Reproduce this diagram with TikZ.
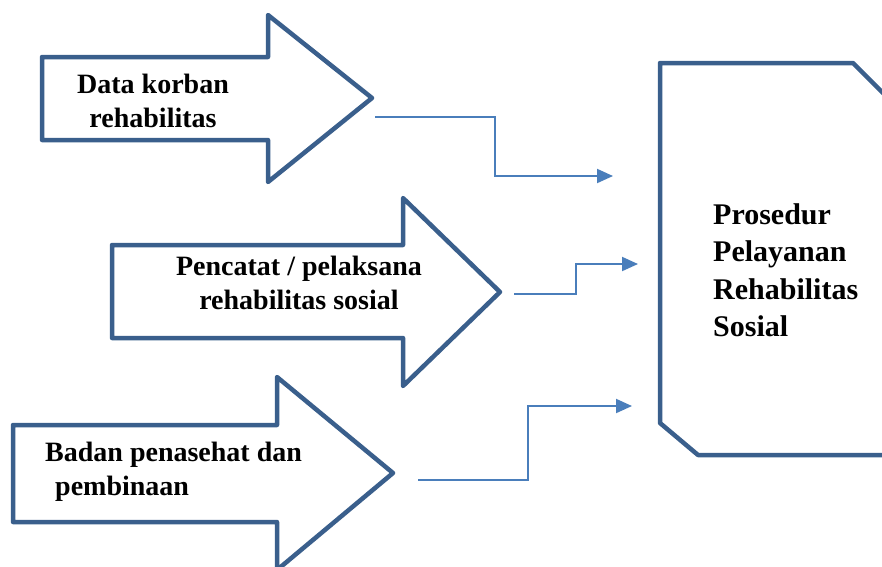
\documentclass[tikz,border=0pt]{standalone}
\usepackage{fontspec}
\setmainfont{Liberation Serif}
\usetikzlibrary{arrows.meta}
\definecolor{outl}{HTML}{3A5F8C}
\definecolor{conn}{HTML}{4A7EBB}
\begin{document}
\begin{tikzpicture}[x=1pt,y=-1pt,
  shapeline/.style={draw=outl,line width=4.5pt,line join=round,fill=white},
  link/.style={draw=conn,line width=2pt,-{Triangle[length=16pt,width=14pt]}},
  lbl/.style={font=\bfseries\fontsize{28}{34}\selectfont,inner sep=0pt},
  boxlbl/.style={font=\bfseries\fontsize{30}{37.5}\selectfont,inner sep=0pt,align=left}]
\useasboundingbox (0,0) rectangle (882,566);
\clip (0,0) rectangle (882,566);
% block arrows
\draw[shapeline] (42,57) -- (268,57) -- (268,15) -- (372,98) -- (268,182) -- (268,140) -- (42,140) -- cycle;
\draw[shapeline] (112,245) -- (403,245) -- (403,198) -- (500,292) -- (403,386) -- (403,338) -- (112,338) -- cycle;
\draw[shapeline] (13,425) -- (277,425) -- (277,377) -- (393,473) -- (277,570) -- (277,522) -- (13,522) -- cycle;
% target box
\draw[shapeline] (660,63) -- (853,63) -- (920,130) -- (920,455) -- (698,455) -- (660,423) -- cycle;
% labels
\node[lbl,align=center] (a1) at (153,101) {Data korban\\rehabilitas};
\node[lbl,align=center] (a2) at (299,283) {Pencatat / pelaksana\\rehabilitas sosial};
\node[lbl,align=left,anchor=west] (a3) at (45,472) {Badan penasehat dan\\\hspace{10pt}pembinaan};
\node[boxlbl,anchor=west] (box) at (713,270) {Prosedur\\Pelayanan\\Rehabilitas\\Sosial};
% connectors
\coordinate (c1s) at (375,117);
\coordinate (c1m) at (495,146);
\coordinate (c1e) at (613,176);
\coordinate (c2s) at (514,294);
\coordinate (c2m) at (576,280);
\coordinate (c2e) at (638,264);
\coordinate (c3s) at (418,480);
\coordinate (c3m) at (528,440);
\coordinate (c3e) at (632,406);
\draw[link] (c1s) -| (c1m) |- (c1e);
\draw[link] (c2s) -| (c2m) |- (c2e);
\draw[link] (c3s) -| (c3m) |- (c3e);
\end{tikzpicture}
\end{document}
